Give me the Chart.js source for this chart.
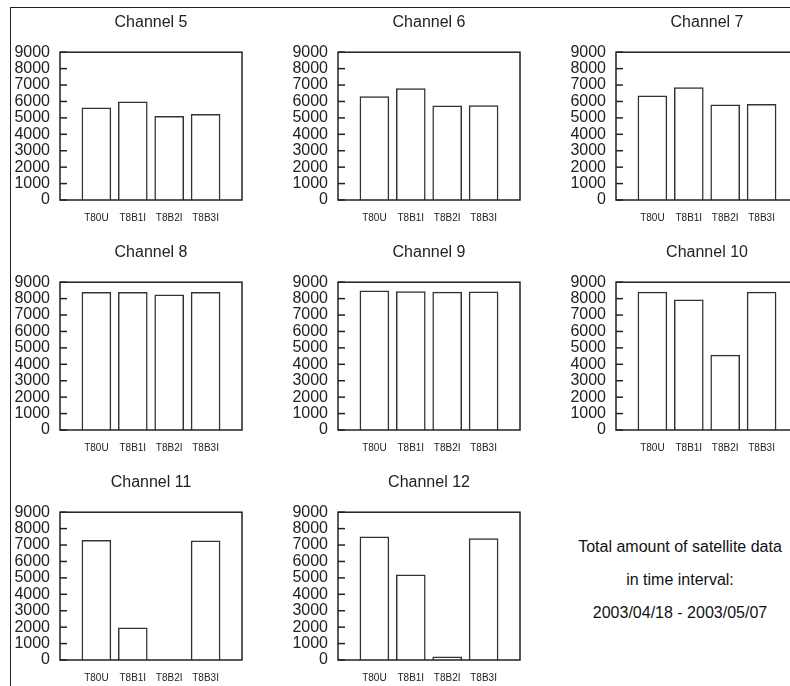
<!DOCTYPE html>
<html>
<head>
<meta charset="utf-8">
<script src="https://cdn.jsdelivr.net/npm/chart.js@4/dist/chart.umd.min.js"></script>
<style>
  body { margin: 0; background: #fff; }
  #page { position: relative; width: 790px; height: 686px; overflow: hidden; }
  #frame { position: absolute; left: 10px; top: 7px; width: 900px; height: 900px;
           border-left: 1.5px solid #222; border-top: 1.5px solid #222; }
  canvas { position: absolute; }
  #note { position: absolute; left: 560px; top: 530px; width: 240px; text-align: center;
          font: 16px 'Liberation Sans', Arial, sans-serif;
          line-height: 33px; color: #111; }
</style>
</head>
<body>
<div id="page">
  <div id="frame"></div>
  <div id="note">Total amount of satellite data<br>in time interval:<br>2003/04/18 - 2003/05/07</div>
</div>
<script>
const categories = ['T80U', 'T8B1I', 'T8B2I', 'T8B3I'];
const channels = ['Channel 5', 'Channel 6', 'Channel 7', 'Channel 8', 'Channel 9', 'Channel 10', 'Channel 11', 'Channel 12'];
const ch5 = [5620, 5980, 5100, 5220];
const ch6 = [6300, 6780, 5730, 5750];
const ch7 = [6350, 6850, 5800, 5820];
const ch8 = [8380, 8380, 8230, 8380];
const ch9 = [8480, 8430, 8400, 8420];
const ch10 = [8400, 7920, 4560, 8400];
const ch11 = [7280, 1960, 0, 7250];
const ch12 = [7500, 5180, 200, 7400];
const yTicks = [0, 1000, 2000, 3000, 4000, 5000, 6000, 7000, 8000, 9000];

const series = [ch5, ch6, ch7, ch8, ch9, ch10, ch11, ch12];
const fam = "'Liberation Sans', Arial, sans-serif";
const ink = '#222';

// full box round the plot and short ticks pointing inwards
const boxPlugin = {
  id: 'box',
  afterDraw(chart) {
    const { ctx, chartArea: a, scales } = chart;
    ctx.save();
    ctx.strokeStyle = ink;
    ctx.lineWidth = 1.5;
    ctx.strokeRect(a.left, a.top, a.right - a.left, a.bottom - a.top);
    yTicks.forEach(v => {
      const y = scales.y.getPixelForValue(v);
      ctx.beginPath();
      ctx.moveTo(a.left, y);
      ctx.lineTo(a.left + 7, y);
      ctx.stroke();
    });
    ctx.restore();
  }
};

const page = document.getElementById('page');
channels.forEach((name, i) => {
  const col = i % 3, row = Math.floor(i / 3);
  const cv = document.createElement('canvas');
  cv.width = 278; cv.height = 230;
  cv.style.left = (10 + col * 278) + 'px';
  cv.style.top = (6 + row * 230) + 'px';
  page.appendChild(cv);

  new Chart(cv, {
    type: 'bar',
    data: {
      labels: ['', ...categories, ''],
      datasets: [{
        data: [null, ...series[i], null],
        backgroundColor: '#fff',
        borderColor: '#333',
        borderWidth: 1.5,
        barThickness: 29,
      }],
    },
    options: {
      responsive: false,
      animation: false,
      layout: { padding: { left: 0, right: 46, top: 0, bottom: 0 } },
      plugins: {
        legend: { display: false },
        tooltip: { enabled: false },
        title: {
          display: true, text: name, fullSize: false, color: ink,
          font: { family: fam, size: 16, weight: 'normal', lineHeight: 1.2 },
          padding: { top: 7, bottom: 20 },
        },
      },
      scales: {
        x: {
          offset: false,
          grid: { display: false, drawTicks: false },
          border: { display: false },
          ticks: { autoSkip: false, maxRotation: 0, padding: 12, color: ink,
                   font: { family: fam, size: 10 } },
          afterFit: s => { s.height = 36; },
        },
        y: {
          min: 0, max: 9000,
          grid: { display: false, drawTicks: false },
          border: { display: false },
          afterBuildTicks: s => { s.ticks = yTicks.map(v => ({ value: v })); },
          ticks: { autoSkip: false, padding: 10, color: ink,
                   callback: v => String(v),
                   font: { family: fam, size: 16, lineHeight: 1 } },
          afterFit: s => { s.width = 50; },
        },
      },
    },
    plugins: [boxPlugin],
  });
});
</script>
</body>
</html>
